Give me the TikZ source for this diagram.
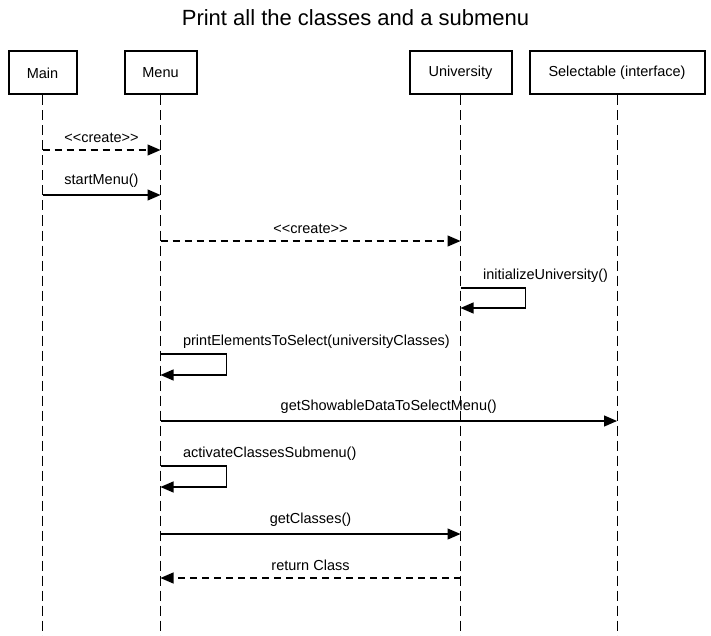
\documentclass[tikz,border=0pt]{standalone}
\usepackage{fontspec}
\setmainfont{Liberation Sans}
\usetikzlibrary{positioning, arrows.meta}

\begin{document}
\begin{tikzpicture}[x=1pt,y=-1pt,node distance=118pt]
\tikzstyle{every node}=[font=\fontsize{14.5}{17}\selectfont]
\tikzstyle{obj}=[draw, line width=2pt, minimum height=43pt, inner sep=0pt]
\tikzstyle{life}=[line width=1pt, dash pattern=on 10pt off 5pt]
\tikzstyle{msg}=[-{Triangle[length=13pt,width=11pt]}, line width=1.2pt]
\tikzstyle{ret}=[msg, dash pattern=on 7pt off 5pt]
\tikzstyle{lbl}=[above, inner sep=2pt, yshift=5pt]
\tikzstyle{slbl}=[anchor=south west, inner sep=2pt, xshift=20pt, yshift=3pt]

\useasboundingbox (0,0) rectangle (711,636);

\node (title) at (355.5,18) {\fontsize{22}{26}\selectfont Print all the classes and a submenu};

\node[obj, minimum width=68pt] (Main) at (42.5,73) {Main};
\node[obj, minimum width=72pt, right of=Main] (Menu) {Menu};
\node[obj, minimum width=102pt, right of=Menu, node distance=300pt] (Univ) {University};
\node[obj, minimum width=175pt, right of=Univ, node distance=156.5pt] (Sel) {Selectable (interface)};

% lifelines
\foreach \o in {Main, Menu, Univ, Sel}
  \draw[life] (\o.south) -- (\o.south |- 0,636);

% messages
\draw[ret] (Main |- 0,150) -- node[lbl] {<{}<create>{}>} (Menu |- 0,150);
\draw[msg] (Main |- 0,195) -- node[lbl] {startMenu()} (Menu |- 0,195);
\draw[ret] (Menu |- 0,241) -- node[lbl] {<{}<create>{}>} (Univ |- 0,241);

\draw[msg] (Univ |- 0,288) node[slbl] {initializeUniversity()}
  -- ++(65,0) -- ++(0,20) -- (Univ |- 0,308);
\draw[msg] (Menu |- 0,354) node[slbl] {printElementsToSelect(universityClasses)}
  -- ++(66,0) -- ++(0,21) -- (Menu |- 0,375);

\draw[msg] (Menu |- 0,421) -- node[lbl] {getShowableDataToSelectMenu()} (Sel |- 0,421);

\draw[msg] (Menu |- 0,466) node[slbl] {activateClassesSubmenu()}
  -- ++(66,0) -- ++(0,21) -- (Menu |- 0,487);

\draw[msg] (Menu |- 0,534) -- node[lbl] {getClasses()} (Univ |- 0,534);
\draw[ret] (Univ |- 0,578) -- node[lbl] {return Class} (Menu |- 0,578);
\end{tikzpicture}
\end{document}
